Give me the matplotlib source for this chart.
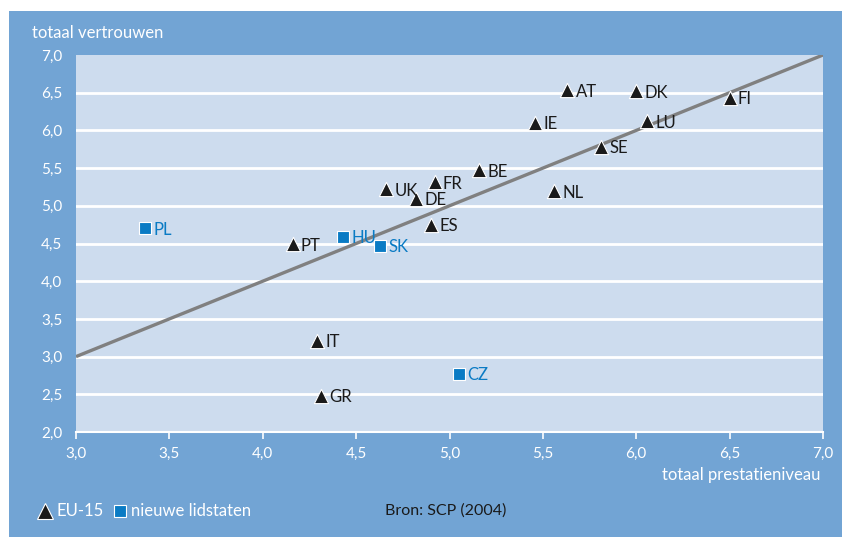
import matplotlib
matplotlib.use("Agg")
import matplotlib.pyplot as plt
from matplotlib.patches import Rectangle

plt.rcParams['font.family'] = ['Lato', 'DejaVu Sans']

# EU-15 countries
eu_labels = ["AT", "DK", "FI", "IE", "LU", "SE", "BE", "FR", "UK", "DE", "ES", "NL", "PT", "IT", "GR"]
eu_x = [5.63, 6.00, 6.50, 5.46, 6.06, 5.81, 5.16, 4.92, 4.66, 4.82, 4.90, 5.56, 4.16, 4.29, 4.31]
eu_y = [6.53, 6.52, 6.43, 6.10, 6.12, 5.78, 5.47, 5.31, 5.22, 5.09, 4.75, 5.19, 4.49, 3.21, 2.48]

# New member states
new_labels = ["PL", "HU", "SK", "CZ"]
new_x = [3.37, 4.43, 4.63, 5.05]
new_y = [4.70, 4.59, 4.47, 2.77]

# Trend line
line_x = [3.0, 7.0]
line_y = [3.0, 7.0]

xticks = [3.0, 3.5, 4.0, 4.5, 5.0, 5.5, 6.0, 6.5, 7.0]
yticks = [2.0, 2.5, 3.0, 3.5, 4.0, 4.5, 5.0, 5.5, 6.0, 6.5, 7.0]

BG = "#72a4d4"
FACE = "#cddcee"
SQ = "#0a7bc4"

W, H = 842, 537
fig = plt.figure(figsize=(W / 100, H / 100), dpi=100, facecolor="white")
fig.patches.append(Rectangle((9 / W, 0), 1, 1 - 11 / H, transform=fig.transFigure,
                             facecolor=BG, edgecolor="none", zorder=-10))

ax = fig.add_axes([76 / W, 1 - 432 / H, (823 - 76) / W, (432 - 55) / H])
ax.set_zorder(2)
ax.set_facecolor(FACE)
ax.set_xlim(3.0, 7.0)
ax.set_ylim(2.0, 7.0)

for yv in yticks[1:-1]:
    ax.axhline(yv, color="white", lw=2.0, zorder=1)

for s in ["top", "right", "left"]:
    ax.spines[s].set_visible(False)
ax.spines["bottom"].set_color("white")
ax.spines["bottom"].set_linewidth(1.5)

fmt = lambda v: f"{v:.1f}".replace(".", ",")
ax.set_xticks(xticks)
ax.set_xticklabels([fmt(v) for v in xticks])
ax.set_yticks(yticks)
ax.set_yticklabels([fmt(v) for v in yticks])
ax.tick_params(axis="x", colors="white", direction="out", length=5, width=1.2,
               labelsize=11, pad=6)
ax.tick_params(axis="y", colors="white", length=0, labelsize=11, pad=10)

ax.plot(line_x, line_y, color="#808080", lw=2.4, zorder=2, solid_capstyle="butt")

ax.scatter(eu_x, eu_y, marker="^", s=105, color="#1a1a1a", edgecolors="white",
           linewidths=0.8, zorder=4, clip_on=False)
ax.scatter(new_x, new_y, marker="s", s=80, color=SQ, edgecolors="white",
           linewidths=0.8, zorder=4, clip_on=False)

for lab, x, y in zip(eu_labels, eu_x, eu_y):
    ax.annotate(lab, (x, y), xytext=(6, -1), textcoords="offset points",
                va="center", ha="left", fontsize=12, color="#1a1a1a", zorder=5)
for lab, x, y in zip(new_labels, new_x, new_y):
    ax.annotate(lab, (x, y), xytext=(6, -1), textcoords="offset points",
                va="center", ha="left", fontsize=12, color=SQ, zorder=5)

fig.text(32 / W, 1 - 33 / H, "totaal vertrouwen", color="white", fontsize=12,
         ha="left", va="center")
fig.text(820 / W, 1 - 475 / H, "totaal prestatieniveau", color="white", fontsize=12,
         ha="right", va="center")

# legend
fig.lines.append(plt.Line2D([45 / W], [1 - 511 / H], marker="^", markersize=11,
                            color="#1a1a1a", markeredgecolor="white", markeredgewidth=0.8,
                            transform=fig.transFigure, linestyle="none"))
fig.text(56 / W, 1 - 511 / H, "EU-15", color="white", fontsize=12, ha="left", va="center")
fig.lines.append(plt.Line2D([120 / W], [1 - 511 / H], marker="s", markersize=9,
                            color=SQ, markeredgecolor="white", markeredgewidth=0.8,
                            transform=fig.transFigure, linestyle="none"))
fig.text(131 / W, 1 - 511 / H, "nieuwe lidstaten", color="white", fontsize=12,
         ha="left", va="center")
fig.text(385 / W, 1 - 511 / H, "Bron: SCP (2004)", color="#1a1a1a", fontsize=11.5,
         ha="left", va="center")

fig.savefig("out.png", dpi=100, facecolor="white")
